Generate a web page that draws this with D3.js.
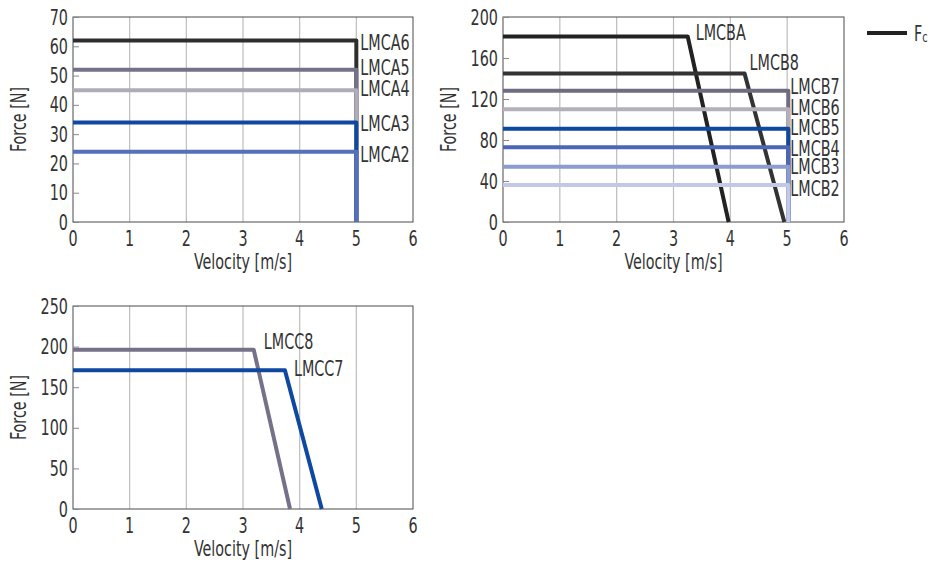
<!DOCTYPE html>
<html>
<head>
<meta charset="utf-8">
<script src="https://cdn.jsdelivr.net/npm/d3@7"></script>
<style>
  body { margin: 0; background: #fff; }
  svg text { font-family: "DejaVu Sans Condensed", "Liberation Sans Narrow", "Roboto", sans-serif; font-stretch: condensed; fill: #333; }
</style>
</head>
<body>
<div id="chart"></div>
<script>
// Data (velocity m/s, force N)
const seriesA = ['LMCA6', 'LMCA5', 'LMCA4', 'LMCA3', 'LMCA2'];
const pointsA = [
    [[0, 62], [5, 62], [5, 0]],
    [[0, 52], [5, 52], [5, 0]],
    [[0, 45], [5, 45], [5, 0]],
    [[0, 34], [5, 34], [5, 0]],
    [[0, 24], [5, 24], [5, 0]]
];
const seriesB = ['LMCBA', 'LMCB8', 'LMCB7', 'LMCB6', 'LMCB5', 'LMCB4', 'LMCB3', 'LMCB2'];
const pointsB = [
    [[0, 181], [3.25, 181], [3.97, 0]],
    [[0, 145], [4.25, 145], [4.95, 0]],
    [[0, 128], [5.02, 128], [5.02, 0]],
    [[0, 110], [5.02, 110], [5.02, 0]],
    [[0, 91], [5.02, 91], [5.02, 0]],
    [[0, 73], [5.02, 73], [5.02, 0]],
    [[0, 54], [5.02, 54], [5.02, 0]],
    [[0, 36], [5.02, 36], [5.02, 0]]
];
const seriesC = ['LMCC8', 'LMCC7'];
const pointsC = [
    [[0, 196], [3.19, 196], [3.83, 0]],
    [[0, 171], [3.74, 171], [4.39, 0]]
];
const xTicks = [0, 1, 2, 3, 4, 5, 6];
const yTicksA = [0, 10, 20, 30, 40, 50, 60, 70];
const yTicksB = [0, 40, 80, 120, 160, 200];
const yTicksC = [0, 50, 100, 150, 200, 250];

// Styles
const colorsA = ['#2e2e2e', '#767189', '#afacb8', '#0e48a0', '#5671bb'];
const colorsB = ['#222222', '#333333', '#6f6b81', '#b3b0bb', '#0e48a0', '#4c66b6', '#8d9cd0', '#c1c8e8'];
const colorsC = ['#767189', '#0e48a0'];
// label offsets in px relative to the line's corner (dx, dy)
const labelOffA = [[4, 2], [4, -2], [4, -2], [4, 1], [4, 3]];
const labelOffB = [[8, -4], [5, -11], [2, -4], [2, -2], [2, -1], [2, 1], [2, 0], [2, 3]];
const labelOffC = [[10, -8], [9, -2]];

// narrow, tall glyphs like the reference's condensed face
const SX = 0.84, SY = 1.12;
const fontSize = 19;
const half = 7.5; // half cap height, to centre labels on a y

const width = 929, height = 566;
const svg = d3.select('#chart').append('svg')
    .attr('width', width)
    .attr('height', height);

function addText(parent, x, y, str, anchor = 'start', rotate = 0) {
    return parent.append('text')
        .attr('transform', `translate(${x},${y}) rotate(${rotate}) scale(${SX},${SY})`)
        .attr('text-anchor', anchor)
        .attr('font-size', fontSize + 'px')
        .text(str);
}

function drawPanel(box, yMax, yTicks, names, points, colors, labelOff) {
    const x = d3.scaleLinear().domain([0, 6]).range([box.left, box.right]);
    const y = d3.scaleLinear().domain([0, yMax]).range([box.bottom, box.top]);
    const g = svg.append('g');

    // vertical gridlines
    g.selectAll('.grid')
        .data(xTicks.slice(1, -1))
        .enter().append('line')
        .attr('x1', d => x(d)).attr('x2', d => x(d))
        .attr('y1', box.top).attr('y2', box.bottom)
        .attr('stroke', '#bdbdbd')
        .attr('stroke-width', 1.2);

    // frame
    g.append('rect')
        .attr('x', box.left).attr('y', box.top)
        .attr('width', box.right - box.left)
        .attr('height', box.bottom - box.top)
        .attr('fill', 'none')
        .attr('stroke', '#4a4a4a')
        .attr('stroke-width', 1);

    // small inward ticks on the force axis
    const yAxis = g.append('g')
        .attr('transform', `translate(${box.left},0)`)
        .call(d3.axisRight(y).tickValues(yTicks).tickSize(6).tickFormat(''));
    yAxis.select('.domain').remove();
    yAxis.selectAll('line').attr('stroke', '#888');

    yTicks.forEach(t => addText(g, box.left - 5, y(t) + half, t, 'end'));
    xTicks.forEach(t => addText(g, x(t), box.bottom + 23.5, t, 'middle'));

    addText(g, (box.left + box.right) / 2, box.bottom + 47, 'Velocity [m/s]', 'middle');
    addText(g, box.left - 47, (box.top + box.bottom) / 2, 'Force [N]', 'middle', -90);

    // curves
    const line = d3.line().x(d => x(d[0])).y(d => y(d[1]));
    points.forEach((pts, i) => {
        g.append('path')
            .attr('d', line(pts))
            .attr('fill', 'none')
            .attr('stroke', colors[i])
            .attr('stroke-width', 4)
            .attr('stroke-linejoin', 'round');
    });

    // labels at the corner of each curve
    points.forEach((pts, i) => {
        addText(g, x(pts[1][0]) + labelOff[i][0], y(pts[1][1]) + labelOff[i][1] + half, names[i]);
    });
}

drawPanel({ left: 73, right: 413, top: 17, bottom: 222 }, 70, yTicksA, seriesA, pointsA, colorsA, labelOffA);
drawPanel({ left: 503, right: 844, top: 17, bottom: 222 }, 200, yTicksB, seriesB, pointsB, colorsB, labelOffB);
drawPanel({ left: 73, right: 413, top: 306, bottom: 509 }, 250, yTicksC, seriesC, pointsC, colorsC, labelOffC);

// legend
svg.append('line')
    .attr('x1', 867).attr('x2', 907)
    .attr('y1', 33).attr('y2', 33)
    .attr('stroke', '#222')
    .attr('stroke-width', 4);
const leg = addText(svg, 914, 41, 'F');
leg.append('tspan').attr('font-size', '13px').attr('dy', '1').text('c');
</script>
</body>
</html>
